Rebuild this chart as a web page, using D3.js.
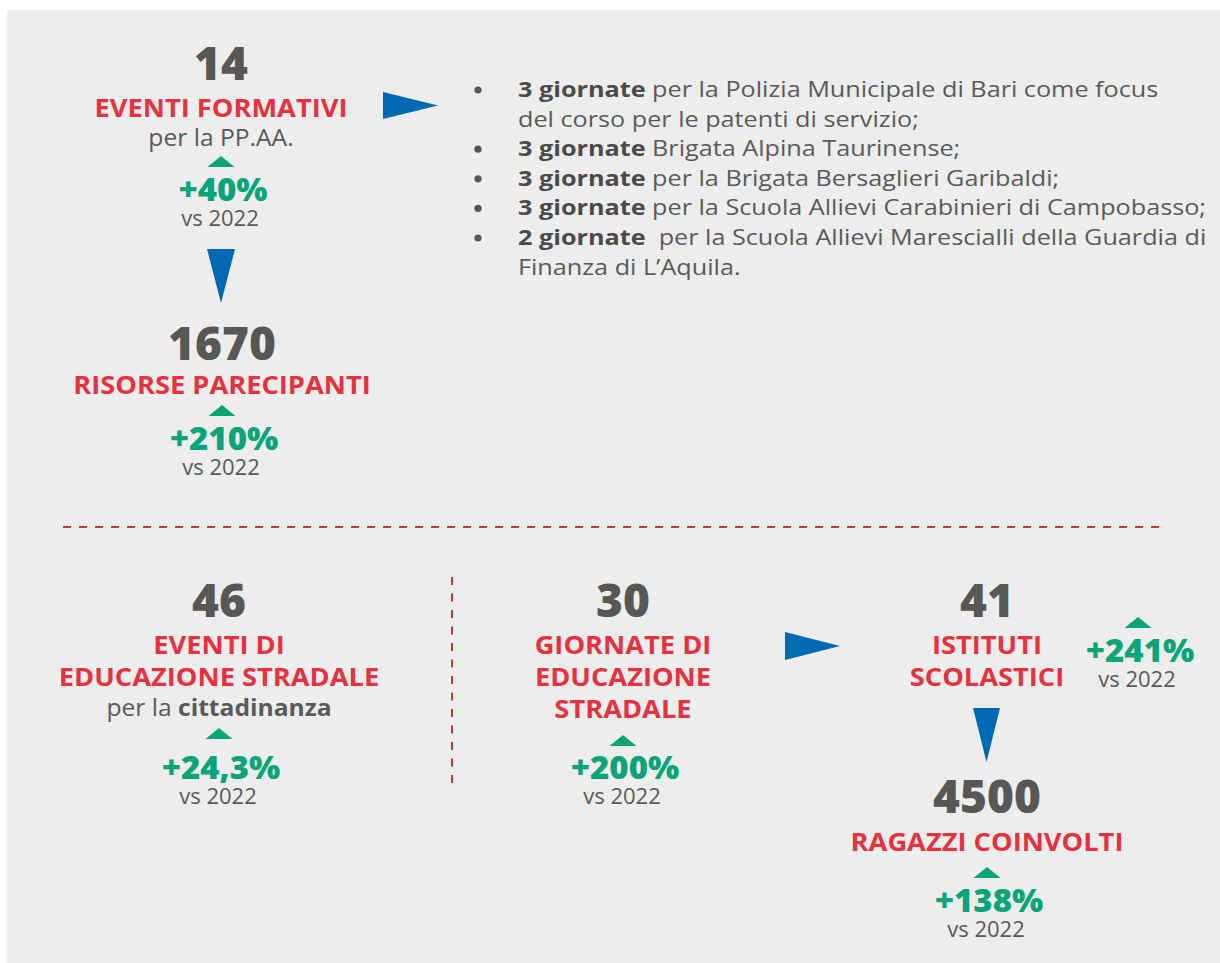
<!DOCTYPE html>
<html>
<head>
<meta charset="utf-8">
<script src="https://cdn.jsdelivr.net/npm/d3@7"></script>
<style>
  body { margin: 0; background: #fff; }
  text { font-family: "Open Sans", Lato, sans-serif; }
</style>
</head>
<body>
<div id="chart"></div>
<script>
// DATA
let numbers = ["14", "1670", "46", "30", "41", "4500"];
let titles = [
  ["EVENTI FORMATIVI"],
  ["RISORSE PARECIPANTI"],
  ["EVENTI DI", "EDUCAZIONE STRADALE"],
  ["GIORNATE DI", "EDUCAZIONE", "STRADALE"],
  ["ISTITUTI", "SCOLASTICI"],
  ["RAGAZZI COINVOLTI"]
];
let subtitles = [
  [["per la PP.AA.", false]],
  [],
  [["per la ", false], ["cittadinanza", true]],
  [],
  [],
  []
];
let changes = ["+40%", "+210%", "+24,3%", "+200%", "+241%", "+138%"];
let compareLabel = "vs 2022";

let bulletBold = ["3 giornate", "3 giornate", "3 giornate", "3 giornate", "2 giornate "];
let bulletRest = [
  [" per la Polizia Municipale di Bari come focus", "del corso per le patenti di servizio;"],
  [" Brigata Alpina Taurinense;"],
  [" per la Brigata Bersaglieri Garibaldi;"],
  [" per la Scuola Allievi Carabinieri di Campobasso;"],
  [" per la Scuola Allievi Marescialli della Guardia di", "Finanza di L\u2019Aquila."]
];

//GENERAL VARIABLE INITIALIZATION
let w = 1220;
let h = 963;
let darkGray = "#575756";
let textGray = "#5a5a5a";
let red = "#e6323e";
let green = "#0aa47a";
let blue = "#0069b4";
let dashRed = "#c23a30";

// layout of each block: centre x, baselines
let layout = [
  {cx: 221, num: 80,  title: [117],           sub: 146, tri: 156, pct: 201, vs: 225},
  {cx: 222, num: 360, title: [394],           sub: null, tri: 405, pct: 450, vs: 474},
  {cx: 219, num: 617, title: [654, 686],      sub: 716, tri: 728, pct: 779, vs: 803},
  {cx: 623, num: 617, title: [654, 686, 718], sub: null, tri: 735, pct: 779, vs: 803},
  {cx: 987, num: 617, title: [654, 686],      sub: null, tri: 617, pct: 662, vs: 686, side: 1138},
  {cx: 987, num: 813, title: [851],           sub: null, tri: 867, pct: 912, vs: 936}
];

// widen glyphs a bit, the original face is broader than the installed ones
let stretch = function(sel, factor) {
  sel.each(function() {
    let len = this.getComputedTextLength();
    d3.select(this)
      .attr("textLength", len * factor)
      .attr("lengthAdjust", "spacingAndGlyphs");
  });
};

let svg = d3.select("#chart").append("svg")
    .attr("width", w)
    .attr("height", h);

// panel
svg.append("rect")
    .attr("x", 7).attr("y", 10)
    .attr("width", w - 7).attr("height", h - 10)
    .attr("fill", "#ededed");

// dashed separators
svg.append("line")
    .attr("x1", 63).attr("x2", 1165)
    .attr("y1", 527).attr("y2", 527)
    .attr("stroke", dashRed).attr("stroke-width", 2)
    .attr("stroke-dasharray", "8,8");

svg.append("line")
    .attr("x1", 452).attr("x2", 452)
    .attr("y1", 577).attr("y2", 783)
    .attr("stroke", dashRed).attr("stroke-width", 2)
    .attr("stroke-dasharray", "8,8.5");

// blue arrows
let arrows = [
  [[383, 92], [383, 119], [438, 105.5]],
  [[207, 249], [235, 249], [221, 303]],
  [[785, 632], [785, 660], [840, 646]],
  [[973, 708], [1000, 708], [986.5, 762]]
];
svg.selectAll("path.arrow")
  .data(arrows)
  .enter()
  .append("path")
  .attr("class", "arrow")
  .attr("d", function(d) { return d3.line()(d) + "Z"; })
  .attr("fill", blue);

// BLOCKS
let blocks = svg.selectAll("g.block")
  .data(layout)
  .enter()
  .append("g")
  .attr("class", "block");

blocks.each(function(d, i) {
  let g = d3.select(this);

  g.append("text")
    .attr("class", "num")
    .attr("x", d.cx).attr("y", d.num)
    .attr("text-anchor", "middle")
    .attr("font-size", 46)
    .attr("font-weight", 800)
    .attr("fill", darkGray)
    .text(numbers[i]);

  titles[i].forEach(function(t, j) {
    g.append("text")
      .attr("class", "title")
      .attr("x", d.cx).attr("y", d.title[j])
      .attr("text-anchor", "middle")
      .attr("font-size", 25)
      .attr("font-weight", 700)
      .attr("fill", red)
      .text(t);
  });

  if (subtitles[i].length) {
    let st = g.append("text")
      .attr("class", "sub")
      .attr("x", d.cx).attr("y", d.sub)
      .attr("text-anchor", "middle")
      .attr("font-size", 23)
      .attr("fill", textGray);
    subtitles[i].forEach(function(p) {
      st.append("tspan")
        .attr("font-weight", p[1] ? 700 : 400)
        .text(p[0]);
    });
  }

  let px = d.side || d.cx;
  g.append("path")
    .attr("d", d3.line()([[px - 13.5, d.tri + 11], [px + 13.5, d.tri + 11], [px, d.tri]]) + "Z")
    .attr("fill", green);

  g.append("text")
    .attr("class", "pct")
    .attr("x", px + 2).attr("y", d.pct)
    .attr("text-anchor", "middle")
    .attr("font-size", 32)
    .attr("font-weight", 800)
    .attr("fill", green)
    .text(changes[i]);

  g.append("text")
    .attr("class", "vs")
    .attr("x", px - 1).attr("y", d.vs + 1)
    .attr("text-anchor", "middle")
    .attr("font-size", 21)
    .attr("fill", textGray)
    .text(compareLabel);
});

stretch(svg.selectAll("text.title"), 1.09);
stretch(svg.selectAll("text.sub"), 1.07);
stretch(svg.selectAll("text.pct"), 1.03);
stretch(svg.selectAll("text.vs"), 1.05);

// BULLET LIST
let lineH = 29.6;
let list = svg.append("g").attr("class", "list");
let row = 0;
bulletBold.forEach(function(b, i) {
  let y = 97 + row * lineH;
  list.append("circle")
    .attr("cx", 478).attr("cy", y - 7)
    .attr("r", 3.6)
    .attr("fill", "#555");
  bulletRest[i].forEach(function(rest, j) {
    let t = list.append("text")
      .attr("class", "bullet")
      .attr("x", 518).attr("y", 97 + row * lineH)
      .attr("font-size", 21)
      .attr("fill", textGray)
      .style("white-space", "pre");
    if (j === 0) {
      t.append("tspan").attr("font-weight", 700).attr("fill", "#4a4a4a").text(b);
    }
    t.append("tspan").text(rest);
    row++;
  });
});
stretch(list.selectAll("text.bullet"), 1.2);
</script>
</body>
</html>
